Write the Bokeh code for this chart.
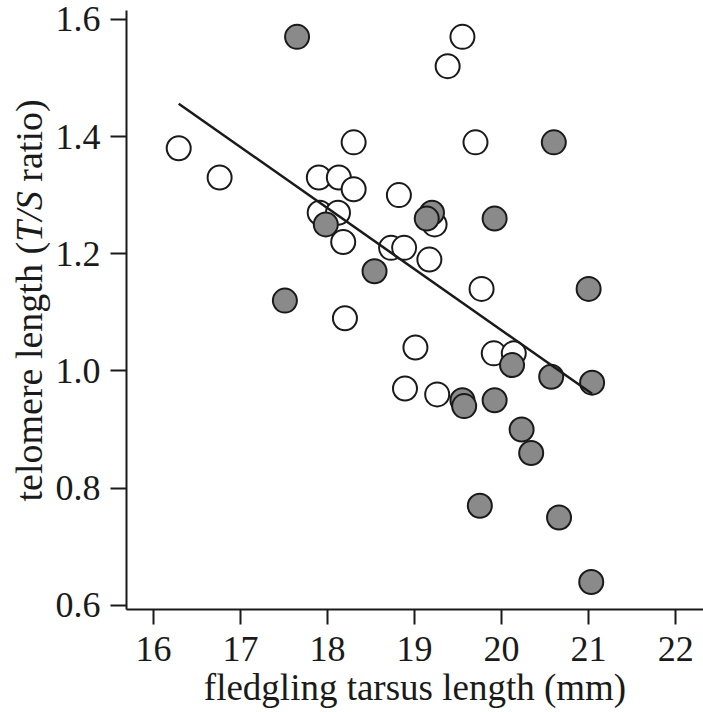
import math
from bokeh.plotting import figure
from bokeh.models import Label, Range1d, FixedTicker
from bokeh.layouts import row
from bokeh.embed import file_html
from bokeh.resources import INLINE

# open circles
open_x = [16.29, 16.76, 18.30, 17.90, 18.13, 18.30, 18.82, 17.91, 18.12, 18.18,
          18.73, 18.88, 19.55, 19.38, 19.70, 19.23, 19.17, 19.77, 18.20, 19.01,
          19.91, 20.14, 18.89, 19.26]
open_y = [1.38, 1.33, 1.39, 1.33, 1.33, 1.31, 1.30, 1.27, 1.27, 1.22,
          1.21, 1.21, 1.57, 1.52, 1.39, 1.25, 1.19, 1.14, 1.09, 1.04,
          1.03, 1.03, 0.97, 0.96]
# filled (grey) circles
filled_x = [17.65, 17.98, 18.54, 17.51, 20.60, 19.20, 19.14, 19.92, 21.00, 20.12,
            20.57, 21.04, 19.55, 19.57, 19.92, 20.23, 20.34, 19.75, 20.66, 21.03]
filled_y = [1.57, 1.25, 1.17, 1.12, 1.39, 1.27, 1.26, 1.26, 1.14, 1.01,
            0.99, 0.98, 0.95, 0.94, 0.95, 0.90, 0.86, 0.77, 0.75, 0.64]
# fitted regression line (end points)
fit_x = [16.29, 21.04]
fit_y = [1.456, 0.961]

x_ticks = [16, 17, 18, 19, 20, 21, 22]
y_ticks = [0.6, 0.8, 1.0, 1.2, 1.4, 1.6]

FONT = "Liberation Serif"
INK = "#1a1a1a"
W, H = 703, 712
LW = 52          # width of the strip holding the y-axis title
FL = 121         # frame left border of strip + plot
FT, FB = 10, 103 # frame top / bottom borders

# ---- y-axis title strip ----
q = figure(width=LW, height=H, output_backend="svg", toolbar_location=None,
           x_axis_type=None, y_axis_type=None,
           x_range=Range1d(0, 1), y_range=Range1d(0, 1),
           min_border_left=0, min_border_right=0, min_border_top=FT,
           min_border_bottom=FB)
q.outline_line_color = None
q.grid.visible = False

ysize = 38
lx = 28
y0 = (H - FB) - 501
w1 = 6.832 * ysize
w2 = 1.334 * ysize
sp = 0.25 * ysize
pieces = [("telomere length (", "normal", y0),
          ("T/S", "italic", y0 + w1),
          ("ratio)", "normal", y0 + w1 + w2 + sp)]
for txt, style, yy in pieces:
    q.add_layout(Label(x=lx, y=yy, x_units="screen", y_units="screen",
                       text=txt, angle=math.pi / 2,
                       text_font=FONT, text_font_size=f"{ysize}px",
                       text_font_style=style, text_color=INK,
                       text_align="left", text_baseline="alphabetic"))

# ---- main plot ----
p = figure(width=W - LW, height=H, output_backend="svg", toolbar_location=None,
           x_range=Range1d(15.69, 22.32), y_range=Range1d(0.593, 1.615),
           min_border_left=FL - LW, min_border_right=0, min_border_top=FT,
           min_border_bottom=FB)
p.outline_line_color = None
p.grid.visible = False
p.background_fill_color = "white"

p.scatter(open_x, open_y, size=24, fill_color="white", line_color=INK, line_width=2)
p.scatter(filled_x, filled_y, size=24, fill_color="#8a8a8a", line_color=INK, line_width=2)
p.line(fit_x, fit_y, line_color=INK, line_width=2.5)

for ax in (p.xaxis[0], p.yaxis[0]):
    ax.axis_line_color = INK
    ax.axis_line_width = 2
    ax.major_tick_line_color = INK
    ax.major_tick_line_width = 2
    ax.major_tick_in = 0
    ax.minor_tick_line_color = None
    ax.major_label_text_font = FONT
    ax.major_label_text_font_size = "36px"
    ax.major_label_text_color = INK

p.xaxis.ticker = FixedTicker(ticks=x_ticks)
p.yaxis.ticker = FixedTicker(ticks=y_ticks)
p.xaxis.major_label_overrides = {t: str(t) for t in x_ticks}
p.yaxis.major_label_overrides = {t: f"{t:.1f}" for t in y_ticks}
p.xaxis.major_tick_out = 15
p.yaxis.major_tick_out = 16
p.xaxis.major_label_standoff = 12
p.yaxis.major_label_standoff = 10

p.xaxis.axis_label = "fledgling tarsus length (mm)"
p.xaxis.axis_label_text_font = FONT
p.xaxis.axis_label_text_font_size = "37px"
p.xaxis.axis_label_text_font_style = "normal"
p.xaxis.axis_label_text_color = INK
p.xaxis.axis_label_standoff = 3
p.yaxis.axis_label = None

layout = row(q, p, spacing=0)
open("out.html", "w").write(file_html(layout, INLINE))
